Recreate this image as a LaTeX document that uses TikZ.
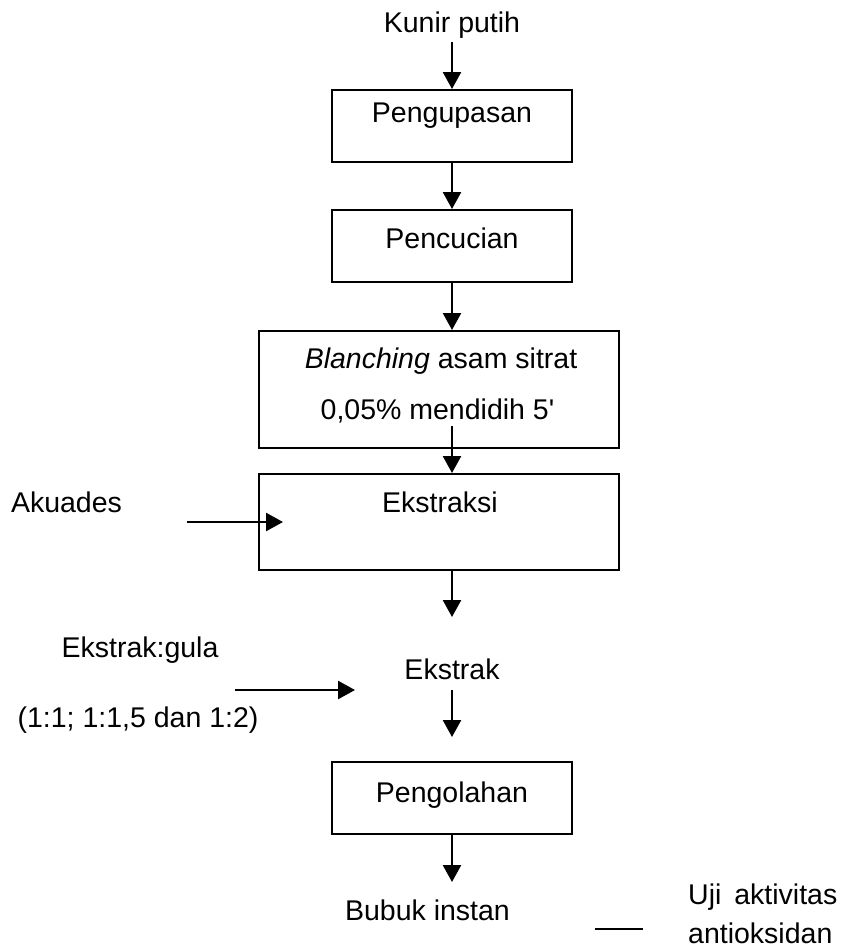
\documentclass[tikz,border=0pt]{standalone}
\usepackage{fontspec}
\newfontfamily\arialf{Liberation Sans}
\usetikzlibrary{arrows.meta}
\begin{document}
\begin{tikzpicture}[x=1pt,y=-1pt,
  box/.style={draw, line width=2pt, rectangle, inner sep=0pt},
  txt/.style={inner sep=0pt, anchor=base, font=\arialf\fontsize{28.5}{34}\selectfont},
  arr/.style={line width=2.5pt, -{Triangle[length=17pt,width=18pt]}},
  plain/.style={line width=2pt}
]
\useasboundingbox (0,0) rectangle (845,948);

% boxes
\node[box, minimum width=240pt, minimum height=72pt] (b1) at (452,126) {};
\node[box, minimum width=240pt, minimum height=72pt] (b2) at (452,246) {};
\node[box, minimum width=360pt, minimum height=117pt] (b3) at (439,389.5) {};
\node[box, minimum width=360pt, minimum height=96pt] (b4) at (439,522) {};
\node[box, minimum width=240pt, minimum height=72pt] (b5) at (452,798) {};

% texts
\node[txt] (kunir) at (452,32) {Kunir putih};
\node[txt] (t1) at (452,122) {Pengupasan};
\node[txt] (t2) at (452,248) {Pencucian};
\node[txt] (t3a) at (441,368) {\itshape Blanching\upshape{} asam sitrat};
\node[txt] (t3b) at (437.5,419) {0,05\% mendidih 5'};
\node[txt] (t4) at (440,512) {Ekstraksi};
\node[txt] (aku) at (66.5,512) {Akuades};
\node[txt] (eg) at (140,657) {Ekstrak:gula};
\node[txt] (ratio) at (138,727) {(1:1; 1:1,5 dan 1:2)};
\node[txt] (ekstrak) at (452,679) {Ekstrak};
\node[txt] (t5) at (452,802) {Pengolahan};
\node[txt] (bubuk) at (427.5,920) {Bubuk instan};
\node[txt, anchor=base west] (uji) at (688,904) {Uji\hspace{5pt} aktivitas};
\node[txt, anchor=base west] (anti) at (688,943) {antioksidan};

% coordinates
\coordinate (c3) at (452,426);
\coordinate (c4) at (452,617);
\coordinate (c5) at (452,737);
\coordinate (c6) at (452,882);
\coordinate (a1) at (187,522);
\coordinate (a2) at (283,522);
\coordinate (g1) at (235,690);
\coordinate (g2) at (355,690);
\coordinate (l1) at (595,929);
\coordinate (l2) at (643,929);

% connectors
\draw[arr] ([yshift=-4pt]kunir.south) -- (b1.north);
\draw[arr] (b1.south) -- (b2.north);
\draw[arr] (b2.south) -- (b2.south |- b3.north);
\draw[arr] (c3) -- (c3 |- b4.north);
\draw[arr] (c4 |- b4.south) -- (c4);
\draw[arr] ([yshift=-11pt]ekstrak.south) -- (c5);
\draw[arr] (b5.south) -- (c6);
\draw[arr] (a1) -- (a2);
\draw[arr] (g1) -- (g2);
\draw[plain] (l1) -- (l2);
\end{tikzpicture}
\end{document}
